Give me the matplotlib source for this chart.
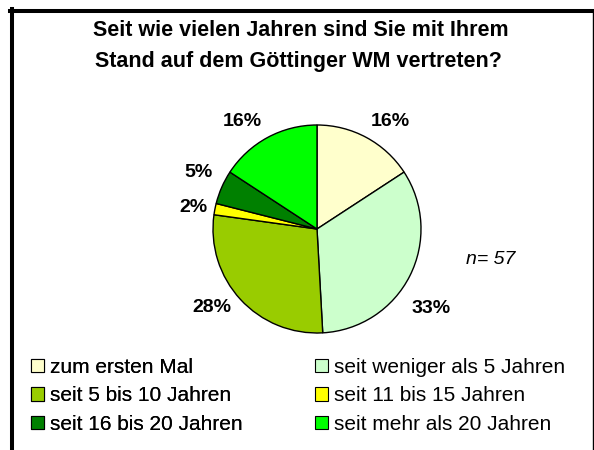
import matplotlib
matplotlib.use("Agg")
import numpy as np
import matplotlib.pyplot as plt
from matplotlib.lines import Line2D
from matplotlib.patches import Patch

plt.rcParams['font.family'] = ['Liberation Sans', 'DejaVu Sans']

# Daten (n = 57)
kategorien = ["zum ersten Mal", "seit weniger als 5 Jahren",
              "seit 5 bis 10 Jahren", "seit 11 bis 15 Jahren",
              "seit 16 bis 20 Jahren", "seit mehr als 20 Jahren"]
anzahl = [9, 19, 16, 1, 3, 9]
farben = ["#FFFFCC", "#CCFFCC", "#99CC00", "#FFFF00", "#008000", "#00FF00"]

titel_1 = "Seit wie vielen Jahren sind Sie mit Ihrem"
titel_2 = "Stand auf dem Göttinger WM vertreten?"

W, H = 594, 450
fig = plt.figure(figsize=(W / 100, H / 100), dpi=100)

# Rahmen (links/oben dick, rechts duenn)
fig.add_artist(Line2D([12 / W, 12 / W], [0, 1 - 9 / H], color="black", lw=2.9))
fig.add_artist(Line2D([10 / W, 592.5 / W], [1 - 11 / H, 1 - 11 / H], color="black", lw=2.9))
fig.add_artist(Line2D([592.5 / W, 592.5 / W], [0, 1 - 11 / H], color="black", lw=1))

fig.text(301 / W, 1 - 30 / H, titel_1, ha="center", va="center",
         fontsize=15.5, fontweight="bold")
fig.text(298 / W, 1 - 61 / H, titel_2, ha="center", va="center",
         fontsize=15.5, fontweight="bold")

cx, cy, r = 317, 229, 104
ax = fig.add_axes([(cx - 1.5 * r) / W, (H - cy - 1.5 * r) / H, 3 * r / W, 3 * r / H])
wedges, texts, autotexts = ax.pie(
    anzahl, colors=farben, startangle=90, counterclock=False,
    autopct="%1.0f%%", pctdistance=1.27,
    wedgeprops=dict(edgecolor="black", linewidth=1))

# Beschriftung etwa wie bei Excel ("Aussen am Ende") versetzen
winkel_korr = [-6, -8, -6, 1, -2, 6.5]
abstand = [1.25, 1.34, 1.26, 1.21, 1.26, 1.26]
for w, t, dw, d in zip(wedges, autotexts, winkel_korr, abstand):
    mitte = np.deg2rad((w.theta1 + w.theta2) / 2 + dw)
    t.set_position((d * np.cos(mitte), d * np.sin(mitte)))
    t.set_fontsize(14)
    t.set_fontweight("bold")
    t.set_va("center")
ax.set_xlim(-1.5, 1.5)
ax.set_ylim(-1.5, 1.5)
ax.set_aspect("equal")
ax.axis("off")

fig.text(491 / W, 1 - 259 / H, "n= 57", ha="center", va="center",
         fontsize=14, style="italic")

handles = [Patch(facecolor=c, edgecolor="black", linewidth=0.8) for c in farben]
leg_opts = dict(loc="upper left", frameon=False, fontsize=15,
                handlelength=0.6, handleheight=0.6, handletextpad=0.3,
                labelspacing=0.45, borderaxespad=0, borderpad=0)
spalte_1 = [0, 2, 4]
spalte_2 = [1, 3, 5]
leg1 = fig.legend([handles[i] for i in spalte_1], [kategorien[i] for i in spalte_1],
                  bbox_to_anchor=(31 / W, 1 - 358 / H), **leg_opts)
fig.add_artist(leg1)
fig.legend([handles[i] for i in spalte_2], [kategorien[i] for i in spalte_2],
           bbox_to_anchor=(315 / W, 1 - 358 / H), **leg_opts)

fig.savefig("out.png", dpi=100)
